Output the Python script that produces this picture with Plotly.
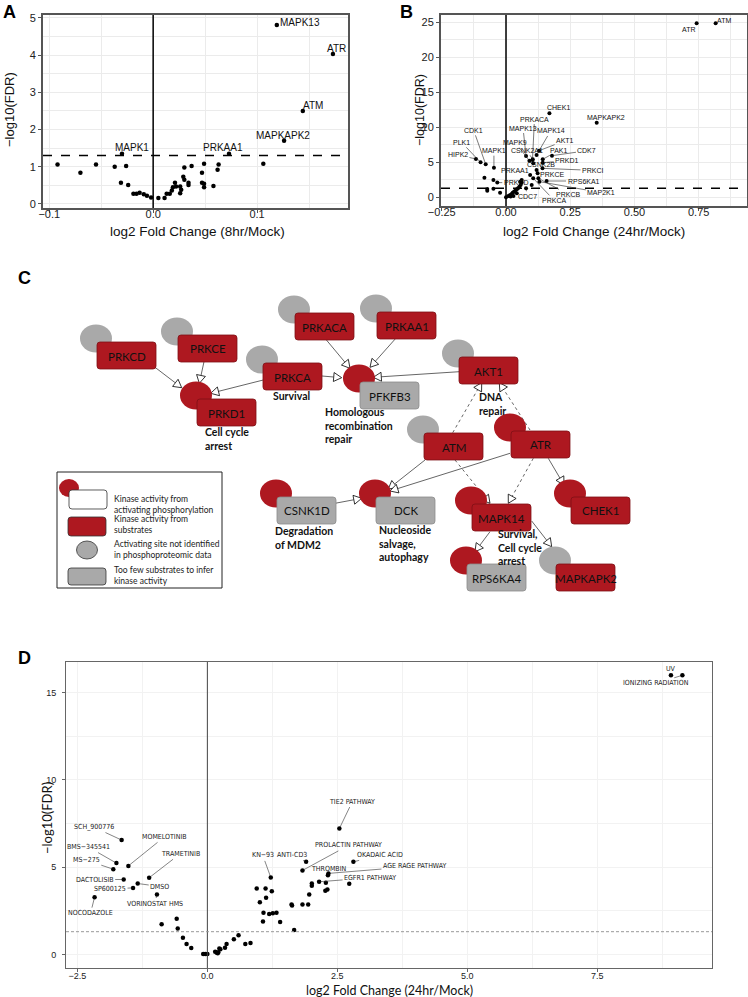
import math
import plotly.graph_objects as go

W, H = 748, 997

# ---------------- Panel A: kinase activity, 8hr vs mock ----------------
A_FC = [0.119, 0.173, 0.144, 0.126, 0.073, -0.030,
        0.106, -0.092, -0.070, -0.055, -0.037, -0.026, -0.031, -0.024,
        -0.019, -0.016, -0.013, -0.009, -0.006, -0.002, 0.005, 0.011,
        0.013, 0.016, 0.018, 0.019, 0.021, 0.022, 0.026, 0.027, 0.026,
        0.029, 0.030, 0.030, 0.034, 0.034, 0.037, 0.047, 0.047, 0.049,
        0.049, 0.049, 0.058, 0.062, 0.063]
A_FDR = [4.81, 4.03, 2.50, 1.70, 1.35, 1.35,
         1.08, 1.06, 0.84, 1.06, 1.00, 1.02, 0.57, 0.51,
         0.27, 0.27, 0.30, 0.26, 0.22, 0.17, 0.16, 0.16,
         0.27, 0.27, 0.36, 0.45, 0.57, 0.47, 0.47, 0.38, 0.29,
         0.73, 0.65, 0.98, 0.57, 0.51, 1.02, 0.84, 0.57, 0.54,
         0.45, 1.08, 0.48, 0.92, 1.06]
A_NAME = ["MAPK13", "ATR", "ATM", "MAPKAPK2", "PRKAA1", "MAPK1"] + [""] * 39

# ---------------- Panel B: kinase activity, 24hr vs mock ----------------
B_FC = [0.816, 0.742, 0.169, 0.353, 0.103, 0.078, 0.119, 0.091, 0.104,
        0.129, 0.143, 0.179, 0.106, 0.143, 0.142, 0.123, 0.094, 0.158,
        0.130, 0.126, 0.106, 0.078, -0.034, -0.047, -0.079, -0.099, -0.117,
        -0.084, -0.049, -0.073, -0.073, -0.049, -0.023, 0.000, 0.009,
        0.016, 0.022, 0.026, 0.031, 0.036, 0.042, 0.047, 0.052, 0.057,
        0.061, 0.061, 0.055, 0.042, 0.029, 0.018, 0.100, 0.119]
B_FDR = [24.86, 24.86, 12.00, 10.67, 5.33, 5.90, 6.05, 5.24, 5.43,
         6.67, 5.43, 5.95, 4.86, 4.95, 4.14, 3.43, 3.19, 2.33,
         2.24, 2.71, 2.71, 1.29, 2.10, 4.24, 4.71, 5.00, 5.48,
         2.81, 2.48, 1.19, 0.95, 1.24, 0.67, 0.00, 0.19,
         0.33, 0.48, 0.67, 0.81, 0.95, 1.14, 1.29, 1.52, 1.76,
         2.10, 2.48, 2.24, 0.57, 0.19, 0.10, 1.76, 3.90]
B_NAME = ["ATM", "ATR", "CHEK1", "MAPKAPK2", "PRKACA", "MAPK13", "MAPK14",
          "MAPK9", "CSNK2A1", "AKT1", "PAK1", "CDK7", "CSNK2B", "PRKD1",
          "PRKCI", "PRKCE", "PRKAA1", "RPS6KA1", "MAP2K1", "PRKCB", "PRKCA",
          "CDC7", "PRKCD", "MAPK1", "CDK1", "PLK1", "HIPK2"] + [""] * 25

# ---------------- Panel D: connectivity perturbagens, 24hr vs mock ----------------
D_FC = [-1.65, -1.52, -1.75, -1.81, -1.61, -1.12, -1.34, -1.43, -0.97, -2.17,
        1.22, 1.90, 1.83, 2.32, 2.33, 2.15, 2.81, 2.54, 8.92, 9.14,
        -0.88, -0.59, -0.57, -0.47, -0.40, -0.31,
        -0.08, -0.04, 0.00, 0.15, 0.18, 0.20, 0.21, 0.23, 0.25, 0.34, 0.37,
        0.51, 0.60, 0.73, 0.83,
        0.95, 1.12, 1.24, 1.01, 1.13, 1.08, 1.19, 1.26, 1.33, 1.07, 1.40,
        1.67, 1.62, 1.63, 1.83, 1.94, 1.96, 2.01, 2.01, 2.27, 2.31, 2.28, 2.73]
D_FDR = [6.55, 5.07, 5.23, 4.88, 4.29, 4.39, 4.06, 3.81, 3.43, 3.28,
         4.41, 5.30, 4.81, 4.54, 4.64, 4.16, 5.30, 7.21, 15.99, 15.99,
         1.72, 2.04, 1.49, 0.95, 0.59, 0.36,
         0.02, 0.02, 0.02, 0.15, 0.09, 0.06, 0.12, 0.34, 0.30, 0.38, 0.59,
         0.86, 1.10, 0.59, 0.65,
         3.78, 3.78, 3.62, 2.98, 3.24, 2.38, 2.31, 2.35, 2.38, 1.89, 1.85,
         1.39, 2.86, 2.80, 2.86, 2.86, 3.43, 3.93, 4.06, 3.64, 3.72, 4.10, 4.04]
D_NAME = ["SCH_900776", "MOMELOTINIB", "BMS\u2212345541", "MS\u2212275", "DACTOLISIB",
          "TRAMETINIB", "DMSO", "SP600125", "VORINOSTAT HMS", "NOCODAZOLE",
          "KN\u221293", "ANTI-CD3", "PROLACTIN PATHWAY", "THROMBIN",
          "AGE RAGE PATHWAY", "EGFR1 PATHWAY", "OKADAIC ACID", "TIE2 PATHWAY",
          "UV", "IONIZING RADIATION"] + [""] * 44

FDR_CUTOFF = 1.3

# label offsets in pixels (dx right, dy down)
A_OFFSETS = {"MAPK13": (23, -3), "ATR": (4, -6), "ATM": (10, -5),
             "MAPKAPK2": (-1, -5), "PRKAA1": (-6, -6), "MAPK1": (10, -6)}
B_OFFSETS = {"ATM": (8, -3), "ATR": (-8, 6), "CHEK1": (9, -6), "MAPKAPK2": (9, -5),
             "PRKACA": (2, -41), "MAPK13": (-3, -28), "MAPK14": (14, -24),
             "MAPK9": (-14, -18), "CSNK2A1": (-6, -9), "AKT1": (26, -10),
             "PAK1": (16, -9), "CDK7": (35, -5), "CSNK2B": (8, 1), "PRKD1": (24, -2),
             "PRKCI": (50, 2), "PRKCE": (14, 1), "PRKAA1": (-15, -4),
             "RPS6KA1": (37, 0), "MAP2K1": (62, 11), "PRKCB": (30, 16),
             "PRKCA": (21, 22), "CDC7": (1, 8), "PRKCD": (19, 0), "MAPK1": (0, -17),
             "CDK1": (-12, -34), "PLK1": (-19, -20), "HIPK2": (-18, -4)}
D_OFFSETS = {"SCH_900776": (-28, -13), "MOMELOTINIB": (36, -29),
             "BMS\u2212345541": (-28, -16), "MS\u2212275": (-27, -9),
             "DACTOLISIB": (-29, 0), "TRAMETINIB": (31, -24), "DMSO": (22, 3),
             "SP600125": (-23, 1), "VORINOSTAT HMS": (-2, 9), "NOCODAZOLE": (-4, 16),
             "KN\u221293": (-8, -22), "ANTI-CD3": (-14, -7), "TIE2 PATHWAY": (13, -27),
             "PROLACTIN PATHWAY": (46, -25), "OKADAIC ACID": (27, -7),
             "THROMBIN": (1, -6), "AGE RAGE PATHWAY": (86, -7),
             "EGFR1 PATHWAY": (51, -4), "UV": (0, -6), "IONIZING RADIATION": (-26, 8)}

# ---------------- Panel C: kinase network ----------------
RED = "#AE1820"
GREY = "#A9A9A9"
# name, rect left, rect top, rect fill, ellipse fill
C_NODES = [
    ("PRKCD", 97, 342, RED, GREY), ("PRKCE", 178, 335, RED, GREY),
    ("PRKACA", 295, 313, RED, GREY), ("PRKAA1", 377, 312, RED, GREY),
    ("PRKCA", 263, 363, RED, GREY), ("PRKD1", 197, 399, RED, RED),
    ("PFKFB3", 360, 382, GREY, RED), ("AKT1", 459, 357, RED, GREY),
    ("ATM", 424, 433, RED, GREY), ("ATR", 511, 431, RED, RED),
    ("CSNK1D", 277, 497, GREY, RED), ("DCK", 376, 497, GREY, RED),
    ("MAPK14", 472, 504, RED, RED), ("CHEK1", 571, 497, RED, RED),
    ("RPS6KA4", 467, 564, GREY, RED), ("MAPKAPK2", 556, 564, RED, GREY),
]
C_EDGES = [
    (155, 367.3, 181.7, 387.7, False), (204, 361.7, 199.3, 383.3, False),
    (263.3, 380, 210.7, 393.3, False), (322, 376, 341.7, 377.7, False),
    (325, 338.3, 350, 368.3, False), (396.7, 337.3, 370, 367.3, False),
    (459.3, 371.7, 373.3, 377.3, False), (452.7, 432.7, 481.7, 382.7, True),
    (530, 430, 499.3, 382.7, True), (425, 460, 388.3, 489, False),
    (510, 453.3, 390, 491, False), (455, 460, 490, 503.3, True),
    (533.3, 458.3, 508.3, 503.3, True), (548.3, 458.3, 564, 485, False),
    (490, 531.7, 475, 551.7, False), (531.7, 521, 551.7, 546.7, False),
    (335, 503.3, 361.7, 498.3, False),
]
C_NOTES = [
    ("Survival", 271, 396), ("Cell cycle<br>arrest", 203, 439),
    ("Homologous<br>recombination<br>repair", 323, 425), ("DNA<br>repair", 477, 404),
    ("Degradation<br>of MDM2", 273, 538), ("Nucleoside<br>salvage,<br>autophagy", 377, 543),
    ("Survival,<br>Cell cycle<br>arrest", 496, 547),
]
LEGEND_TEXT = ["Kinase activity from<br>activating phosphorylation",
               "Kinase activity from<br>substrates",
               "Activating site not identified<br>in phosphoproteomic data",
               "Too few substrates to infer<br>kinase activity"]

SANS = "Liberation Sans, Arial, sans-serif"
NARROW = "Liberation Sans Narrow, DejaVu Sans Condensed, Liberation Sans, sans-serif"
CAL = "Lato, Open Sans, sans-serif"


def fx(px):
    return px / W


def fy(py):
    return 1 - py / H


def axis(domain, rng, tickvals, fmt, minor, line_w, line_c, grid_c, tick_size, standoff=0):
    return dict(domain=domain, range=rng, tickvals=tickvals, tickformat=fmt,
                showgrid=True, gridcolor=grid_c, gridwidth=1,
                minor=dict(tick0=0, dtick=minor, showgrid=True, gridcolor=grid_c,
                           gridwidth=0.5, ticks=""),
                showline=True, mirror=True, linecolor=line_c, linewidth=line_w,
                ticks="outside", ticklen=3, tickcolor=line_c, ticklabelstandoff=standoff,
                tickfont=dict(family=SANS, size=tick_size, color="#222"),
                zeroline=False, fixedrange=True, automargin=False)


def label(text, x, y, size, family, color="#111", xanchor="center", **kw):
    return dict(x=fx(x), y=fy(y), xref="paper", yref="paper", text=text, showarrow=False,
                xanchor=xanchor, yanchor="middle", font=dict(family=family, size=size, color=color),
                **kw)


fig = go.Figure()
for xs, ys, xa, ya, ms in [(A_FC, A_FDR, "x", "y", 4.5), (B_FC, B_FDR, "x2", "y2", 4),
                           (D_FC, D_FDR, "x3", "y3", 4.5)]:
    fig.add_trace(go.Scatter(x=xs, y=ys, mode="markers", xaxis=xa, yaxis=ya,
                             marker=dict(size=ms, color="black"), hoverinfo="skip",
                             showlegend=False))

shapes = []
ann = []

# reference lines
for xr, yr in [("x", "y"), ("x2", "y2"), ("x3", "y3")]:
    d_panel = xr == "x3"
    shapes.append(dict(type="line", xref=xr, yref=yr + " domain", x0=0, x1=0, y0=0, y1=1,
                       line=dict(color="#444" if d_panel else "black", width=1 if d_panel else 1.5)))
    shapes.append(dict(type="line", xref=xr + " domain", yref=yr, x0=0, x1=1,
                       y0=FDR_CUTOFF, y1=FDR_CUTOFF,
                       line=dict(color="#999" if d_panel else "black", width=1 if d_panel else 1.5,
                                 dash="3px,2px" if d_panel else "dash")))

# point labels
for x, y, n in zip(A_FC, A_FDR, A_NAME):
    if n:
        dx, dy = A_OFFSETS[n]
        ann.append(dict(x=x, y=y, xref="x", yref="y", text=n, showarrow=False,
                        xshift=dx, yshift=-dy, font=dict(family=SANS, size=10, color="#111")))
for x, y, n in zip(B_FC, B_FDR, B_NAME):
    if n:
        dx, dy = B_OFFSETS[n]
        ann.append(dict(x=x, y=y, xref="x2", yref="y2", text=n, showarrow=True,
                        arrowhead=0, arrowwidth=0.6, arrowcolor="#222", ax=dx, ay=dy,
                        standoff=1.5, font=dict(family=SANS, size=7, color="#111")))
for x, y, n in zip(D_FC, D_FDR, D_NAME):
    if n:
        dx, dy = D_OFFSETS[n]
        ann.append(dict(x=x, y=y, xref="x3", yref="y3", text=n, showarrow=True,
                        arrowhead=0, arrowwidth=0.6, arrowcolor="#333", ax=dx, ay=dy,
                        standoff=1.5, font=dict(family=NARROW, size=7, color="#222")))

# axis titles and panel letters
for text, x, y, size, ang, fam in [
        ("\u2212log10(FDR)", 10, 110, 13, -90, SANS),
        ("log2 Fold Change (8hr/Mock)", 197, 231, 13.5, 0, SANS),
        ("\u2212log10(FDR)", 420, 110, 12.5, -90, SANS),
        ("log2 Fold Change (24hr/Mock)", 594, 231, 13.5, 0, SANS),
        ("\u2212log10(FDR)", 47, 818, 13, -90, CAL),
        ("log2 Fold Change (24hr/Mock)", 389, 990, 12.5, 0, CAL)]:
    ann.append(label(text, x, y, size, fam, textangle=ang))
for letter, x, y in [("A", 9, 12), ("B", 407, 12), ("C", 24, 278), ("D", 24, 658)]:
    ann.append(label("<b>%s</b>" % letter, x, y, 18, SANS, color="black"))


def rrect(x0, y0, x1, y1, r=3):
    pts = [("M", x0 + r, y0), ("L", x1 - r, y0), ("Q", x1, y0, x1, y0 + r),
           ("L", x1, y1 - r), ("Q", x1, y1, x1 - r, y1), ("L", x0 + r, y1),
           ("Q", x0, y1, x0, y1 - r), ("L", x0, y0 + r), ("Q", x0, y0, x0 + r, y0)]
    out = []
    for p in pts:
        coords = p[1:]
        seg = " ".join("%.5f,%.5f" % (fx(coords[i]), fy(coords[i + 1]))
                       for i in range(0, len(coords), 2))
        out.append(p[0] + " " + seg)
    return " ".join(out) + " Z"


def ellipse(cx, cy, rx, ry, fill, line=None):
    return dict(type="circle", xref="paper", yref="paper", x0=fx(cx - rx), x1=fx(cx + rx),
                y0=fy(cy + ry), y1=fy(cy - ry), fillcolor=fill, line=line or dict(width=0))


# network edges with open arrowheads
for x0, y0, x1, y1, dotted in C_EDGES:
    L, hw = 8, 4.5
    d = math.hypot(x1 - x0, y1 - y0)
    ux, uy = (x1 - x0) / d, (y1 - y0) / d
    bx, by = x1 - L * ux, y1 - L * uy
    shapes.append(dict(type="line", xref="paper", yref="paper", x0=fx(x0), y0=fy(y0),
                       x1=fx(bx), y1=fy(by),
                       line=dict(color="#666", width=1, dash="dot" if dotted else "solid")))
    lx, ly = bx - hw * uy, by + hw * ux
    rx_, ry_ = bx + hw * uy, by - hw * ux
    shapes.append(dict(type="path", xref="paper", yref="paper",
                       path="M %.5f,%.5f L %.5f,%.5f L %.5f,%.5f Z" % (
                           fx(x1), fy(y1), fx(lx), fy(ly), fx(rx_), fy(ry_)),
                       fillcolor="white", line=dict(color="black", width=0.8)))

# network nodes
NW, NH = 59, 27
for name, x0, y0, fill, efill in C_NODES:
    shapes.append(ellipse(x0 - 1, y0 - 3.5, 16, 14, efill))
    border = "#7d1015" if fill == RED else "#8c8c8c"
    shapes.append(dict(type="path", xref="paper", yref="paper", path=rrect(x0, y0, x0 + NW, y0 + NH),
                       fillcolor=fill, line=dict(color=border, width=0.8)))
    ann.append(label(name, x0 + NW / 2, y0 + NH / 2 + 0.5, 11.5, CAL))

for text, x, y in C_NOTES:
    ann.append(label("<b>%s</b>" % text, x, y, 10.5, CAL, xanchor="left", align="left"))

# network legend
shapes.append(dict(type="rect", xref="paper", yref="paper", x0=fx(57), x1=fx(222), y0=fy(588), y1=fy(472),
                   fillcolor="white", line=dict(color="#222", width=1)))
shapes.append(ellipse(69, 488, 10, 9, RED))
shapes.append(dict(type="path", xref="paper", yref="paper", path=rrect(69, 490, 107, 509),
                   fillcolor="white", line=dict(color="#333", width=0.8)))
shapes.append(dict(type="path", xref="paper", yref="paper", path=rrect(68, 517, 106, 536),
                   fillcolor=RED, line=dict(color="#333", width=0.8)))
shapes.append(ellipse(87, 550, 10.5, 9, GREY, dict(color="#333", width=0.8)))
shapes.append(dict(type="path", xref="paper", yref="paper", path=rrect(68, 568, 106, 585),
                   fillcolor=GREY, line=dict(color="#333", width=0.8)))
for text, y in zip(LEGEND_TEXT, [504.5, 524, 549, 575]):
    ann.append(label(text, 112, y, 8.5, CAL, color="#222", xanchor="left", align="left"))

fig.update_layout(
    width=W, height=H, margin=dict(l=0, r=0, t=0, b=0, autoexpand=False),
    paper_bgcolor="white", plot_bgcolor="white", showlegend=False, hovermode=False,
    xaxis=dict(axis([fx(43), fx(348)], [-0.106, 0.1875], [-0.1, 0, 0.1], ".1f", 0.05,
                    2, "#555", "#ebebeb", 11, -8), anchor="y"),
    yaxis=dict(axis([fy(208), fy(15)], [-0.11, 5.08], [0, 1, 2, 3, 4, 5], "d", 0.5,
                    2, "#555", "#ebebeb", 11), anchor="x"),
    xaxis2=dict(axis([fx(441), fx(747)], [-0.253, 0.938], [-0.25, 0, 0.25, 0.5, 0.75], ".2f",
                     0.125, 2, "#555", "#ebebeb", 11, -8), anchor="y2"),
    yaxis2=dict(axis([fy(206), fy(15)], [-1.24, 26.05], [0, 5, 10, 15, 20, 25], "d", 2.5,
                     2, "#555", "#ebebeb", 11), anchor="x2"),
    xaxis3=dict(axis([fx(66), fx(712)], [-2.72, 9.71], [-2.5, 0, 2.5, 5, 7.5], ".1f", 1.25,
                     1, "#666", "#f2f2f2", 9, -4), anchor="y3"),
    yaxis3=dict(axis([fy(968), fy(662)], [-0.78, 16.75], [0, 5, 10, 15], "d", 2.5,
                     1, "#666", "#f2f2f2", 9, 4), anchor="x3"),
    shapes=shapes, annotations=ann,
)

fig.write_html("out.html", config={"displayModeBar": False},
               post_script="document.body.style.margin='0';")
